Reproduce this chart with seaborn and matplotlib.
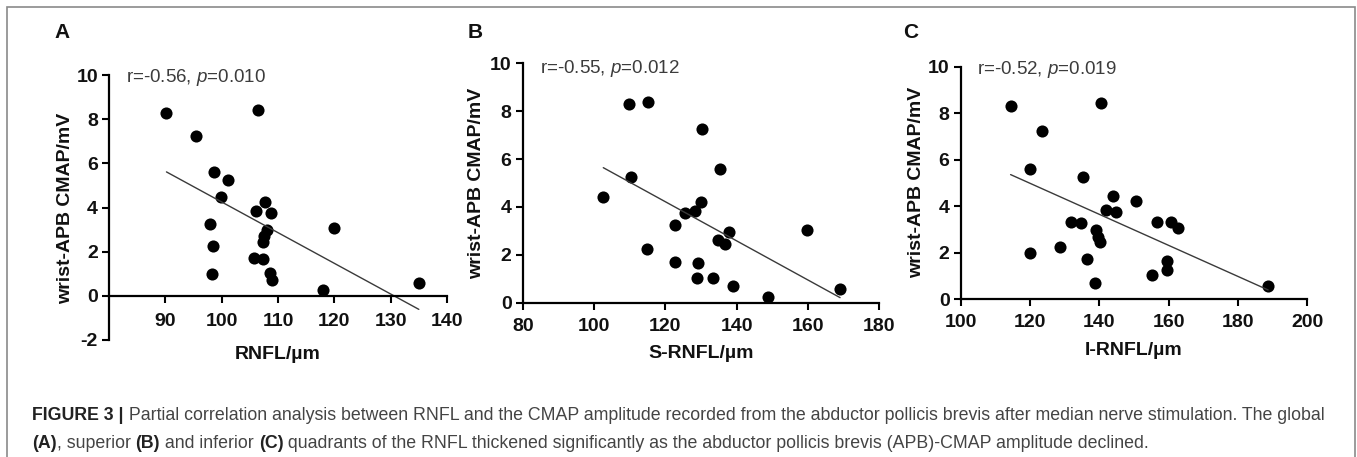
import matplotlib

matplotlib.use("Agg")
import matplotlib.pyplot as plt
import seaborn as sns
import pandas as pd
from matplotlib.patches import Rectangle

# Values
rnfl = [90.2, 95.5, 98.7, 101.1, 99.8, 98.0, 98.4, 98.2, 106.4, 106.1, 107.7, 108.8,
        108.0, 107.6, 107.3, 105.7, 107.3, 108.6, 108.9, 117.9, 119.9, 135.0]
rnfl_cmap = [8.3, 7.25, 5.6, 5.25, 4.47, 3.25, 2.25, 1.0, 8.42, 3.82, 4.24, 3.73,
             3.0, 2.7, 2.45, 1.72, 1.65, 1.05, 0.72, 0.25, 3.05, 0.57]

s_rnfl = [109.9, 115.0, 130.2, 135.3, 110.3, 102.6, 129.9, 128.3, 125.5, 122.8, 137.8,
          134.9, 136.7, 114.9, 159.6, 122.7, 129.1, 128.8, 133.5, 138.9, 148.9, 169.0]
s_rnfl_cmap = [8.29, 8.4, 7.24, 5.57, 5.24, 4.43, 4.22, 3.83, 3.73, 3.23, 2.97,
               2.62, 2.44, 2.26, 3.04, 1.71, 1.65, 1.02, 1.02, 0.71, 0.25, 0.56]

i_rnfl = [114.4, 140.4, 123.4, 120.0, 135.4, 144.0, 150.6, 141.9, 144.8, 131.7, 134.7,
          156.5, 160.7, 162.8, 139.0, 139.7, 140.2, 128.6, 120.0, 136.5, 159.6, 159.6,
          155.1, 138.7, 188.7]
i_rnfl_cmap = [8.31, 8.42, 7.25, 5.6, 5.27, 4.45, 4.23, 3.83, 3.73, 3.33, 3.26,
               3.33, 3.33, 3.04, 2.97, 2.65, 2.47, 2.25, 1.99, 1.74, 1.65, 1.25,
               1.02, 0.70, 0.56]

panel_letters = ["A", "B", "C"]
x_labels = ["RNFL/\u00b5m", "S-RNFL/\u00b5m", "I-RNFL/\u00b5m"]
y_label = "wrist-APB CMAP/mV"
r_values = ["-0.56", "-0.55", "-0.52"]
p_values = ["0.010", "0.012", "0.019"]
x_ticks = [[90, 100, 110, 120, 130, 140],
           [80, 100, 120, 140, 160, 180],
           [100, 120, 140, 160, 180, 200]]
x_lims = [(80, 140), (80, 180), (100, 200)]
y_ticks = [[-2, 0, 2, 4, 6, 8, 10], [0, 2, 4, 6, 8, 10], [0, 2, 4, 6, 8, 10]]
y_lims = [(-2, 10), (0, 10), (0, 10)]

caption_1 = [("FIGURE 3 |", "bold"),
             (" Partial correlation analysis between RNFL and the CMAP amplitude recorded "
              "from the abductor pollicis brevis after median nerve stimulation. The global", "normal")]
caption_2 = [("(A)", "bold"), (", superior ", "normal"), ("(B)", "bold"), (" and inferior ", "normal"),
             ("(C)", "bold"),
             (" quadrants of the RNFL thickened significantly as the abductor pollicis brevis "
              "(APB)-CMAP amplitude declined.", "normal")]

sns.set_style("ticks")
plt.rcParams["font.family"] = ["Liberation Sans", "DejaVu Sans"]
plt.rcParams["axes.unicode_minus"] = False
plt.rcParams["mathtext.fontset"] = "custom"
plt.rcParams["mathtext.rm"] = "Liberation Sans"
plt.rcParams["mathtext.it"] = "Liberation Sans:italic"

W, H = 1357, 457
fig = plt.figure(figsize=(W / 100, H / 100), dpi=100)

# axes boxes in pixels: left, top, right, bottom
boxes = [(109, 75, 447, 340), (522.7, 63.3, 879.3, 302.7), (960.7, 66.7, 1307.3, 299)]
stat_pos = [(0.05, 0.989), (0.048, 0.98), (0.047, 0.986)]
ylab_pos = [(-0.128, 0.498), (-0.128, 0.5), (-0.126, 0.5)]
xlab_y = [-0.053, -0.214, -0.22]
letter_x = [62, 475, 911]

data = [(rnfl, rnfl_cmap), (s_rnfl, s_rnfl_cmap), (i_rnfl, i_rnfl_cmap)]

for i, (xs, ys) in enumerate(data):
    l, t, r, b = boxes[i]
    ax = fig.add_axes([l / W, 1 - b / H, (r - l) / W, (b - t) / H])
    df = pd.DataFrame({"x": xs, "y": ys})
    sns.regplot(data=df, x="x", y="y", ci=None, ax=ax,
                scatter_kws={"s": 76, "color": "black", "alpha": 1, "linewidths": 0},
                line_kws={"color": "#3a3a3a", "lw": 1.0})
    ax.set_xlim(*x_lims[i])
    ax.set_ylim(*y_lims[i])
    ax.set_xticks(x_ticks[i])
    ax.set_yticks(y_ticks[i])
    sns.despine(ax=ax)
    if i == 0:
        ax.spines["bottom"].set_position(("data", 0))
    for s in ["left", "bottom"]:
        ax.spines[s].set_linewidth(1.6)
        ax.spines[s].set_color("black")
    ax.tick_params(direction="out", length=5, width=1.5, color="black",
                   labelsize=14, labelcolor="#111111")
    ax.tick_params(axis="x", pad=7 if i == 0 else 6)
    ax.tick_params(axis="y", pad=3)
    for lab in ax.get_xticklabels() + ax.get_yticklabels():
        lab.set_fontweight("bold")

    ax.set_xlabel(x_labels[i], fontsize=14, fontweight="bold", color="#111111")
    ax.xaxis.set_label_coords(0.5, xlab_y[i])
    ax.xaxis.label.set_va("center")
    ax.set_ylabel(y_label, fontsize=14, fontweight="bold", color="#111111")
    ax.yaxis.set_label_coords(*ylab_pos[i])
    ax.yaxis.label.set_va("center")

    ax.text(*stat_pos[i], f"r={r_values[i]}, $\\it{{p}}$={p_values[i]}",
            transform=ax.transAxes, fontsize=13.5, color="#3c3c3c", va="center", ha="left")

    fig.text(letter_x[i] / W, 1 - 32 / H, panel_letters[i], fontsize=15,
             fontweight="bold", ha="center", va="center", color="#111111")

# frame round the figure
fig.add_artist(Rectangle((7 / W, -0.1), (1355 - 7) / W, 1.1 - 7 / H,
                         transform=fig.transFigure, fill=False,
                         edgecolor="#8a8a8a", lw=1.2))

# caption, sized to the width of its first line
renderer = fig.canvas.get_renderer()


def caption_width(segments, size):
    total = 0
    for txt, weight in segments:
        t = fig.text(0, 0, txt, fontsize=size, fontweight=weight)
        total += t.get_window_extent(renderer).width
        t.remove()
    return total


size = 10 * (1333 - 32) / caption_width(caption_1, 10)


def draw_caption(segments, x0, y0):
    x = x0
    for txt, weight in segments:
        t = fig.text(x / W, 1 - y0 / H, txt, fontsize=size, fontweight=weight,
                     color="#222222" if weight == "bold" else "#444444", va="center")
        x += t.get_window_extent(renderer).width


draw_caption(caption_1, 32, 415)
draw_caption(caption_2, 32, 444)

fig.savefig("out.png", dpi=100)
